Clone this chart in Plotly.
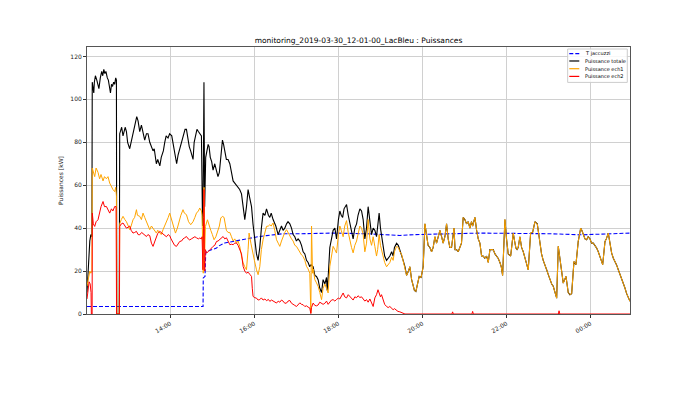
import pandas as pd
import plotly.graph_objects as go

START = pd.Timestamp("2019-03-30 12:00")

# ---- data: minutes after 12:00, power in kW ----
total_min = [1,3,5,6.5,8,8.5,10.7,11.5,13,15,18,20,22,23.5,25,26.5,28,30,31.5,33,34.5,36,37.5,39,40.5,42,43,43.5,47,47.7,49,50.5,52.4,54,55.5,57.3,59,62,64,66,68,70,72,73.9,75,76.3,78.7,81,83.4,85.9,88.1,90.6,93,95.3,97,100,102,105,107,110,112,114,116.7,119,122,124,127,129,131,134,136,139,141,143,145,147,149,151,152.4,154,156,158,160,162,164.4,166,167,168,169,170.5,172.4,174,175.3,177,179,181,183.4,185.9,188,190,192,194.4,196,197.7,200,202.4,204.9,207.3,209.6,212,214.4,216.7,219,221.6,224,226.3,228.7,231,233.4,235.9,238,240.6,243,245.3,247.7,250,252.4,255,257.3,260,262,264,266.7,270.6,273.9,276.3,278.7,281,283.4,285.9,288,290.6,293,295.3,297.7,300,302.4,304.9,307.3,309.6,312,314.4,316.7,319,321,323.9,326.3,328.7,331,333.4,335.9,338.1,340.6,343,343.9,345.3,347.7,350.1,352.4,354.9,357.3,360,362,364,366,368,371.6,374,376.3,378.7,381,383.4,385.9,388,390.6,393,395.3,397.7,400.1,402.4,404.9,407.3,409.6,412,414.4,416,418.1,420,423.9,426,428.7,431,433.4,436,438.1,440,443,445.5,447.7]
total_kw = [10,26,34,37,36,108,103,108,111,109,105,110,113,111,114,112,113,110,109,106,103,107,106,108,107,110,109,0,0,84,86,87,83,85,87,85,80,77,80,83,87,89,92,90,87,85,88,84,81,84,84,80,78,76,77,70,72,69,73,76,80,83,82,84,83,79,75,70,74,78,80,84,86,86,81,78,76,73,72,80,84,86,85,84,83,41,60,108,50,73,77,79,78,73,71,67,70,66,64,66,75,81,79,75,72,72,70,66,62,61,60,59,58,56,50,44,50,58,54,50,42,33,28,25,31,40,47,46,49,46,45,47,44,41,37,39,41,39,40,42,43,42,40,37,36,34,35,34,32,29,28,25,24,22,23,22,18,17.5,16,12,10,16,14,17,11,17,31,35,39,40,35,44,48,46,45,49,51,46,42,38,35,40,42,46,49,48,44,35,40,50,42,37,40,39,36,41,47,40,30,27,25,26,27,29,27,31,33,32,30]

ech1_min = [1,3,5,6.5,8,8.5,10,12,14,16.7,19,21,23.9,26,28.7,31,33.4,35.9,38,40.6,42,43,43.5,47,47.7,50,52.4,55,57.3,60,62,64,66.7,69,71.6,73,76.3,78.7,81,83.4,85.9,88,90.6,93,95.3,98,100.1,102,104.9,107,109.6,112,114.4,117,119.1,122.4,125,127.3,130,132,135,138.1,140,143,146,149.1,152.4,155,157.3,160,162,164.4,165.3,167,168.1,169,170.1,173,175.3,177.7,180,182.4,185,187.3,190,192,194.4,196.7,198,200,202.4,204.9,207.3,209.6,212,214.4,216.7,219.1,221.6,223.9,226.3,228.7,231,232.4,235,237.3,240,243,245.3,247.7,250,252.4,255,257.3,260,262,264,266.7,269,271.6,274,276.3,278.7,281,283.4,285.9,288,290.6,293,295.3,297.7,300.1,302.4,304.9,307.3,309.6,312,314.4,316.7,319.1,320.6,321.6,323,324,326.3,328.7,331,333.4,335.9,338.1,340.6,343,345.3,347.7,350.1,352.4,354.9,357.3,360,362,364,366.7,369,371.6,374,376.3,378.7,381,383.4,385.9,388,390.6,393,395.3,397.7,400.1,402.4,404.9,407.3,409.6,412,414.4,416,418.1,420,423.9,426,428.7,431,433.4,436,438.1,440,443,445.5,447.7]
ech1_kw = [13,17,20,19,20,68,66,64,68,66,63,65,62,64,63,64,61,59,58,57,59,55,0,0,42,44,45.5,44,43,41,39.3,41,43.9,45,48.6,46,45.5,44,47,45,43,41,39.3,41,40,39,37.7,39,38,37,39.3,41,43.1,45,47,43,40,37.7,40,43,46,48.6,47,46.3,43,41.6,43,45,47,48,49.4,48,46,19,59,30,40.8,43.9,41,39,37,34.6,36,38,41,44.7,45.5,45,42,39,38,38,36,34,35,33,34,31.5,27,23.8,22,20.6,30,37.7,33,29.9,25,20.6,18.3,22,30,34.6,38,40.8,41,41.6,41,42.4,39,34.6,33,31.5,34,36.1,38,39.3,38,36.1,35,34,32,31.5,30,28.4,27.5,26.8,25,22.2,21,19,0.5,41,19,21,16,14.5,12.9,10,6.7,12,14,12,9.8,22.2,28,31.5,30,28.4,37,41,39,36,41,43.5,38,34,31,28.5,32,34,37.5,41,40,37,29,33,44,35,32,36,31.5,27,30,37,32,27,24,22,23,24,26.5,25,29,31.5,31,29]

# after ~19:30 ech2 is zero: totale and ech1 coincide
tail_min = [450,452.4,455,457.3,460,462,464.5,466.7,468.5,470.6,473,475.3,478,481,483.5,485.9,488,490.6,493,495.3,497.7,500.1,502.4,504.9,507.3,509.5,512,514.4,516.7,519.1,521.5,523.9,525,526.5,528.7,531,533.4,535.7,538.1,540.5,542.9,545.3,547.7,548.7,550,551.6,552.4,554.9,557.3,559.6,562,564.4,566.7,569,571.6,573.9,576.3,579,581,583.5,585.9,588,590.6,592.5,594.4,597.7,600,602.4,605.9,607.5,609.6,611.5,613.4,615,616.7,619.1,621.5,623.9,625.8,627.7,631,634.4,637.3,640.6,643.9,647.7,650,652.4,655,657.3,660,662,664.5,666.7,669,671.6,673.9,677.3,679,681,684.9,688.1,690.5,693,696.3,699.1,702.4,705.9,707.5,709.6,712,714.4,716.5,719.1,721.5,723.9,726.5,728.7,731,733.4,735.5,737.3,740.6,742.5,745.3,747.5,750.1,752.5,754.9,757,759.6,762,764.4,766.5,769.1,771.5,773.9,776.3]
tail_kw = [28,25,22,18,20,22,16,13,11,10.5,14,17.5,17,22,42,36,32,31,29,31,36,33,36,39,36,33,36,42,35,31,31,39,40,30,30,29,31,33,45,44,42,43,40,42,43,41,42,45,39,35,33,27,27,26,27,24,30,30,30,28,27,26,24,22,18,44,35,28,27,32,37.7,34,30.7,30,31,36,31,29,26,24.5,20.6,37.7,38,43,42,31.5,28,25,23,20.6,18,16,14,12.9,10,7.4,31.5,24,18,14.4,17.5,10,9,9.5,24.5,23,33.8,40,39,37,35,34.6,36,35,33,33,32,30.7,29,26.8,25,23,33.8,35,37.7,33,28.4,26,24.5,23,20.6,18.5,16.8,14.5,12.1,9.5,7.4,5.9]

ech2_min = [1,2.5,4,5.5,6.8,7.2,8.3,8.6,10,12,14,16.7,19,21,23.9,26,28.7,31,33.4,35.9,38,40.6,42.5,43.2,47.3,47.7,50,52.4,55,57.3,60,62,64,66.7,69,71.6,74,76.3,79,81,83.4,85.9,88,90.6,93,95.3,98,100.1,102,104.9,107,109.6,112,114.4,117,119.1,121,123.9,126,128.7,131,133.4,136,138.1,140.5,143,145.5,147.7,150,152.4,155,157.3,160,162,164.4,165.3,166.5,167.5,168.1,168.6,169.1,170,171.6,174,176.3,178.7,181,183.4,185.9,188.1,190.6,193,195.3,197.7,200.1,202.4,204.9,207.3,209.6,212,214.4,216.7,219.1,221.6,223.9,226.3,228.7,231,233.4,235.9,237,238.1,240.6,243,245.3,247.7,250,252.4,255,257.3,260,262,264.5,266.7,269,271.6,274,276.3,278.7,281,283.4,285.9,288,290.6,293,295.3,297.7,300.1,302.4,304.9,307.3,309.6,312,314.4,316.7,319.1,320.6,321.5,323.9,326.3,328.7,331,333.4,335.9,338.1,340.6,343,345.3,347.7,350.1,352.4,354.9,357.3,360,362,364,366.7,369,371.6,374,376.3,378.7,381,383.4,385.9,388,390.6,393,395.3,397.7,400.1,402.4,404.9,407.3,409.6,412,414.4,416.5,418.1,420,421.5,423.9,426,428.7,431,433.4,436,438.1,440,443,445,447.7,450,452.4,455,522,523,524,550.6,551.6,552.6,674,675,676,776.3]
ech2_kw = [7,12,15,14,10,0,0,47,42,40.8,43,43.9,47,50,52.4,50,50.1,48.6,47,49,48,50.1,50,0,0,40.8,42,42.4,41,40,40.5,41,39,37.7,38,38.5,37,36.9,38,37.5,36.5,36.1,37,36.5,33,31.5,34,36,37.5,38.5,38,37,36.5,36,37,36.5,35,33.1,32,31.5,33,33.8,34,35,35.5,36.1,35,34.5,35,35.5,36,35.5,35,35.4,35,36,20.6,45,58,25,20,30,28.4,29,29.9,31,31.5,32,33.8,34,34.6,35.5,36.1,35,35.5,34,32.3,32.5,32.3,33,33.1,32,29.9,28,22.2,20,19,19.5,18.5,17.5,12,8.2,7.6,7.4,6.5,6.7,7.5,6.5,7,6.2,6.8,5.9,6.5,6,5.5,5.1,6,5.5,6.5,6,5,5.1,6,6.3,5,4.3,4,3.5,4.5,5.2,4.5,4.3,3.5,3.8,3.2,2.8,0.2,3,5.1,4,3.8,4.2,5.5,4.8,4.5,5,6,4.5,5.5,6.5,6.7,6,6.8,7.4,7,8,9.8,8,7.5,9,8,7,6.5,8,7.6,8.5,7.7,8,7,6,6.7,5.5,7,5.1,3.5,7.5,9,11.3,10,8,9,6,4.5,3.5,3,3.5,2.5,2,2.5,1.5,1.2,1,0.6,0.3,0,0,1.0,0,0,1.2,0,0,1.5,0,0]

temp_min = [1,166.7,167,169.5,170.5,172,175,178.7,185.9,188,197.7,209.6,221,233.4,245,257.3,281,305,352.4,400,447.7,470,500,552.4,562,662,705.9,733.4,776.3]
temp_val = [3.5,3.5,16.8,17.5,28.4,29.2,29.5,30,30.7,31.5,33.1,33.8,34.5,35.4,36,36.5,37.4,37.4,37.7,37.4,36.6,37,37.3,37.7,37.7,37.4,36.9,37.2,37.7]

tick_times = ["2019-03-30 14:00", "2019-03-30 16:00", "2019-03-30 18:00",
              "2019-03-30 20:00", "2019-03-30 22:00", "2019-03-31 00:00"]
tick_labels = ["14:00", "16:00", "18:00", "20:00", "22:00", "00:00"]
y_ticks = [0, 20, 40, 60, 80, 100, 120]

series_names = ["T jaccuzzi", "Puissance totale", "Puissance ech1", "Puissance ech2"]
series_colors = ["#0000ff", "#000000", "#ffa500", "#ff0000"]
series_dash = ["4px,2px", "solid", "solid", "solid"]
series_width = [1.1, 1.1, 1.0, 1.0]


def to_time(mins):
    return START + pd.to_timedelta(pd.Series(mins, dtype=float), unit="min")


t_total = pd.concat([to_time(total_min), to_time(tail_min)], ignore_index=True)
v_total = total_kw + tail_kw
t_ech1 = pd.concat([to_time(ech1_min), to_time(tail_min)], ignore_index=True)
v_ech1 = ech1_kw + tail_kw

xs = [to_time(temp_min), t_total, t_ech1, to_time(ech2_min)]
ys = [temp_val, v_total, v_ech1, ech2_kw]

fig = go.Figure()
for x, y, n, c, d, w in zip(xs, ys, series_names, series_colors, series_dash, series_width):
    fig.add_trace(go.Scatter(x=x, y=y, mode="lines", name=n,
                             line=dict(color=c, width=w, dash=d)))

FONT = "DejaVu Sans"

# compact matplotlib-like legend (upper right, inside axes)
legend_box = dict(x0=0.8852, x1=0.9950, y0=0.8674, y1=0.9925)
row_y = [0.9749, 0.9476, 0.9187, 0.8899]
fig.add_shape(type="rect", xref="paper", yref="paper", **legend_box,
              line=dict(color="#cccccc", width=1), fillcolor="rgba(255,255,255,0.85)",
              layer="above")
for yy, n, c, d in zip(row_y, series_names, series_colors, series_dash):
    fig.add_shape(type="line", xref="paper", yref="paper",
                  x0=0.8882, x1=0.9066, y0=yy, y1=yy,
                  line=dict(color=c, width=1.2, dash=d), layer="above")
    fig.add_annotation(x=0.9135, y=yy, xref="paper", yref="paper", text=n,
                       showarrow=False, xanchor="left", yanchor="middle",
                       font=dict(family=FONT, size=5, color="#000"))

fig.update_layout(
    width=700, height=393,
    margin=dict(l=79, r=78, t=39, b=87),
    paper_bgcolor="white", plot_bgcolor="white",
    font=dict(family=FONT, size=6, color="#222"),
    title=dict(text="monitoring_2019-03-30_12-01-00_LacBleu : Puissances",
               x=0.5, xref="paper", xanchor="center",
               y=(393 - 32) / 393, yref="container", yanchor="middle",
               font=dict(family=FONT, size=7.5, color="#000")),
    showlegend=False,
)
fig.update_xaxes(
    range=[to_time([1]).iloc[0], to_time([776.3]).iloc[0]],
    tickvals=pd.to_datetime(tick_times), ticktext=tick_labels,
    tickangle=-30, ticks="outside", ticklen=3, tickcolor="#333",
    showgrid=True, gridcolor="#d0d0d0", gridwidth=1,
    showline=True, linecolor="#555", linewidth=1, mirror=True,
    zeroline=False, tickfont=dict(family=FONT, size=6, color="#222"),
)
fig.update_yaxes(
    range=[0, 124.4], tickvals=y_ticks,
    ticks="outside", ticklen=3, tickcolor="#333",
    showgrid=True, gridcolor="#d0d0d0", gridwidth=1,
    showline=True, linecolor="#555", linewidth=1, mirror=True,
    zeroline=False, tickfont=dict(family=FONT, size=6, color="#222"),
    title=dict(text="Puissances [kW]", font=dict(family=FONT, size=6, color="#222"), standoff=6),
)

fig.write_html("out.html")
